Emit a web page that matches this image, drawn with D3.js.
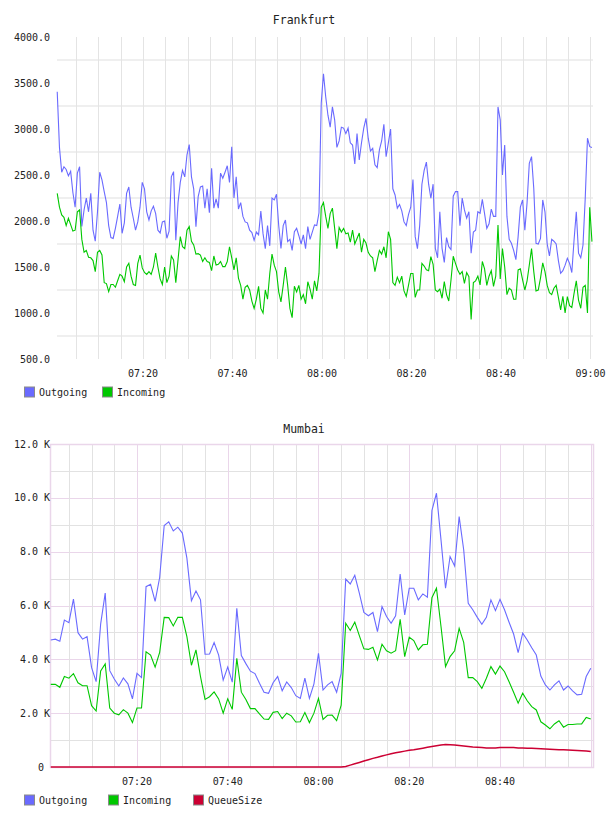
<!DOCTYPE html>
<html lang="en">
<head>
<meta charset="UTF-8">
<title>Frankfurt / Mumbai traffic</title>
<script src="https://cdn.jsdelivr.net/npm/d3@7"></script>
<style>
    body { margin: 0; background: #fff; }
    svg { display: block; }
    text { font-family: "DejaVu Sans Mono", monospace; fill: #222; }
</style>
</head>
<body>
<script>
/*------------------------- data -------------------------*/
const seriesNames = ["Outgoing", "Incoming", "QueueSize"];
const seriesColors = ["#6a6aff", "#00c800", "#cc0033"];

// Frankfurt: one sample every 30 s, starting 07:00:50
const fraStart = "07:00:50";
const fraStepSec = 30;
const fraOutgoing = [
    3406, 2800, 2530, 2590, 2560, 2490, 2540, 2310, 2150, 2520,
    2590, 1940, 2120, 2250, 2100, 2300, 1900, 1780, 2100, 2530,
    2446, 2320, 2200, 1950, 1820, 1810, 1920, 2050, 2185, 1866,
    1980, 2300, 2370, 2150, 2030, 1900, 1990, 2150, 2420, 2350,
    2100, 2011, 2110, 2160, 2080, 1900, 1870, 1990, 2000, 1812,
    1890, 2480, 2537, 1790, 2200, 2420, 2550, 2480, 2720, 2830,
    2480, 2350, 1939, 2265, 2370, 2380, 2138, 2350, 2090, 2573,
    2140, 2240, 2140, 2520, 2464, 2530, 2600, 2420, 2808, 2250,
    2480, 2130,
    2200, 2050, 1990, 1980, 1900, 1875, 1790, 1880, 1850, 2109,
    1860, 1700, 1950, 1730, 2250, 2230, 2290, 1950, 1703, 1950,
    2010, 1776, 1800, 1680, 1884, 1920, 1840, 1750, 1850, 1700,
    1939, 1800, 1880, 1957, 1950, 2090, 3280, 3600, 3350, 3150,
    3020, 3240, 3100, 2800, 2870, 3020, 3010, 2950, 3010, 2850,
    2826, 2620, 2950, 2663, 2850, 3010, 3116, 2900, 2760, 2790,
    2610, 2580, 2772, 2870, 3050, 2700, 2850, 3000, 2350, 2283,
    2140, 2180, 2110, 1990, 1950, 2070, 2150, 2450, 1830, 1700,
    1950, 2400, 2550, 2640, 2400, 2247, 2400, 1703, 1600, 2100,
    1703, 1550, 1820, 1721, 1690, 2270, 2320, 2319, 1950, 2250,
    2120, 2030, 2100, 1650, 1880, 1900, 2100, 2084, 2235, 2080,
    1920, 1970, 2130, 2050, 2050, 3240, 3100, 2500, 2826, 2050,
    1800, 1758, 1680, 1580, 1830, 2150, 2229, 1900, 2200, 2627,
    2700, 2350, 1758, 1750, 1810, 2229, 2100, 1750, 1620, 1800,
    1780, 1750, 1570, 1432, 1460, 1520, 1595, 1540, 1440, 1794,
    2100, 1650, 1600, 1739, 2250, 2900, 2808, 2800
];
const fraIncoming = [
    2300, 2150, 2066, 2040, 1950, 2030, 1960, 1890, 1900, 2100,
    2120, 1800, 1660, 1680, 1606, 1600, 1570, 1450, 1660, 1680,
    1631, 1330, 1320, 1232, 1310, 1310, 1280, 1350, 1420, 1400,
    1340, 1500, 1540, 1400, 1310, 1300, 1540, 1630, 1490, 1440,
    1420, 1450, 1420, 1500, 1650, 1500, 1370, 1310, 1500, 1330,
    1400, 1620, 1577, 1330, 1580, 1830, 1720, 1700, 1900, 1939,
    1780, 1740, 1640, 1645, 1630, 1560, 1600, 1560, 1550, 1460,
    1620, 1522, 1530, 1559, 1504, 1504, 1560, 1720, 1600, 1468,
    1600, 1380,
    1300, 1150, 1280, 1300, 1250, 1130, 1050, 1150, 1290, 1050,
    1000, 1250, 1150, 1430, 1640, 1520, 1450, 1230, 1120, 1300,
    1500, 1300, 1050, 950, 1290, 1230, 1300, 1150, 1200, 1100,
    1340, 1260, 1150, 1350, 1240, 1430, 2150, 2200, 2050, 1920,
    2080, 2140, 1920, 1700, 1930, 1880, 1920, 1860, 1870, 1770,
    1900, 1750, 1810, 1870, 1660, 1800, 1760, 1660, 1620, 1600,
    1450, 1570, 1680, 1640, 1720, 1600, 1884, 1800, 1330, 1300,
    1390, 1330, 1400, 1240, 1180, 1300, 1430, 1430, 1170, 1250,
    1250, 1540, 1510, 1470, 1460, 1613, 1530, 1250, 1232, 1260,
    1160, 1341, 1200, 1130, 1359, 1617, 1540, 1468, 1420, 1450,
    1323, 1440, 1395, 930, 1330, 1350, 1400, 1305, 1560, 1480,
    1300, 1400, 1460, 1290, 1400, 1957, 1370, 1700, 1500, 1200,
    1269, 1250, 1150, 1150, 1468, 1480, 1359, 1250, 1350, 1522,
    1700, 1450, 1240, 1250, 1380, 1545, 1450, 1300, 1220, 1200,
    1269, 1300, 1170, 1033, 1180, 1000, 1178, 1080, 1060, 1214,
    1350, 1140, 1051, 1280, 1300, 1000, 2150, 1776
];

// Mumbai: one sample per minute, starting 07:01, values in K
const mumStart = "07:01:00";
const mumStepSec = 60;
const mumOutgoing = [
    4.72, 4.75, 4.67, 5.46, 5.36, 6.24, 4.99, 4.75, 4.84, 3.69,
    3.17, 5.32, 6.46, 3.58, 3.27, 3.01, 3.31, 3.09, 2.53, 3.48,
    3.32, 6.70, 6.79, 6.15, 7.04, 8.97, 9.11, 8.77, 8.91, 8.69,
    7.76, 6.18, 6.54, 6.21, 4.19, 4.20, 4.62, 4.16, 3.23, 3.71,
    3.15, 5.90, 4.14, 3.84, 3.56, 3.47, 3.11, 2.78, 2.74, 3.13,
    3.36, 2.83, 3.16, 2.95, 2.65, 2.55, 3.30, 2.55, 3.09, 4.22,
    2.86, 3.05, 3.17, 2.78, 3.48, 6.98, 6.80, 7.12, 6.46, 5.74,
    5.62, 5.74, 5.03, 5.96, 5.59, 5.34, 5.62, 7.17, 5.65, 6.64,
    6.64, 6.21, 6.43, 6.31, 9.53, 10.17, 8.44, 6.64, 7.82, 7.47,
    9.30, 8.07, 6.08, 5.84, 5.56, 5.30, 5.56, 6.21, 5.81, 6.23,
    5.84, 5.38, 4.94, 4.25, 4.97, 4.72, 4.43, 4.16, 3.38, 3.05,
    2.86, 3.05, 3.20, 2.86, 3.01, 2.83, 2.68, 2.70, 3.36, 3.67
];
const mumIncoming = [
    3.07, 3.07, 2.96, 3.36, 3.30, 3.47, 3.13, 3.02, 3.02, 2.28,
    2.08, 3.57, 3.83, 2.19, 2.00, 1.94, 2.13, 2.00, 1.65, 2.19,
    2.19, 4.28, 4.16, 3.71, 4.26, 5.56, 5.55, 5.24, 5.56, 5.56,
    4.84, 3.78, 4.35, 3.36, 2.51, 2.61, 2.79, 2.53, 2.00, 2.53,
    2.14, 4.04, 2.78, 2.51, 2.17, 2.17, 1.97, 1.78, 1.77, 2.03,
    2.06, 1.80, 2.00, 1.90, 1.67, 1.68, 2.02, 1.65, 2.00, 2.55,
    1.77, 1.92, 1.93, 1.72, 2.30, 5.34, 5.07, 5.38, 4.88, 4.39,
    4.37, 4.45, 3.98, 4.56, 4.32, 4.23, 4.32, 5.49, 4.10, 4.82,
    4.70, 4.35, 4.54, 4.56, 6.29, 6.64, 5.22, 3.73, 4.10, 4.32,
    5.15, 4.63, 3.32, 3.32, 3.17, 2.92, 3.30, 3.73, 3.45, 3.75,
    3.54, 3.17, 2.78, 2.37, 2.74, 2.46, 2.24, 2.12, 1.68, 1.56,
    1.42, 1.60, 1.72, 1.48, 1.58, 1.58, 1.60, 1.60, 1.84, 1.78
];
const mumQueue = [
    0, 0, 0, 0, 0, 0, 0, 0, 0, 0,
    0, 0, 0, 0, 0, 0, 0, 0, 0, 0,
    0, 0, 0, 0, 0, 0, 0, 0, 0, 0,
    0, 0, 0, 0, 0, 0, 0, 0, 0, 0,
    0, 0, 0, 0, 0, 0, 0, 0, 0, 0,
    0, 0, 0, 0, 0, 0, 0, 0, 0, 0,
    0, 0, 0, 0, 0, 0.02, 0.07, 0.12, 0.17, 0.22,
    0.27, 0.32, 0.36, 0.41, 0.45, 0.49, 0.53, 0.56, 0.59, 0.62,
    0.64, 0.67, 0.70, 0.73, 0.76, 0.79, 0.82, 0.84, 0.83, 0.82,
    0.80, 0.78, 0.76, 0.74, 0.73, 0.72, 0.71, 0.71, 0.71, 0.72,
    0.72, 0.72, 0.72, 0.71, 0.71, 0.70, 0.70, 0.69, 0.68, 0.67,
    0.66, 0.65, 0.64, 0.64, 0.63, 0.62, 0.61, 0.60, 0.59, 0.58
];

// axis labels
const fraTimeTicks = ["07:20", "07:40", "08:00", "08:20", "08:40", "09:00"];
const fraValueTicks = [500, 1000, 1500, 2000, 2500, 3000, 3500, 4000];
const mumTimeTicks = ["07:20", "07:40", "08:00", "08:20", "08:40"];
const mumValueTicks = [0, 2, 4, 6, 8, 10, 12];

/*------------------------- helpers -------------------------*/
const parseT = d3.timeParse("%H:%M:%S");
const parseHM = d3.timeParse("%H:%M");

function toPoints(values, start, stepSec) {
    const t0 = parseT(start).getTime();
    return values.map((v, i) => ({ t: new Date(t0 + i * stepSec * 1000), v: v }));
}

const svg = d3.select("body").append("svg")
    .attr("width", 608)
    .attr("height", 816);

function legend(g, y, xs, n) {
    for (let i = 0; i < n; i++) {
        g.append("rect")
            .attr("x", xs[i] + 0.5).attr("y", y + 0.5)
            .attr("width", 10).attr("height", 10)
            .attr("fill", seriesColors[i])
            .attr("stroke", "#8a8a8a");
        g.append("text")
            .attr("x", xs[i] + 15).attr("y", y + 9)
            .attr("font-size", 10)
            .text(seriesNames[i]);
    }
}

/*------------------------- Frankfurt -------------------------*/
{
    const left = 57, right = 593, top = 37, bottom = 359;
    const x = d3.scaleTime()
        .domain([parseT("07:00:47"), parseT("09:00:34")])
        .range([left, right]);
    const y = d3.scaleLinear().domain([500, 4000]).range([bottom, top]);
    const g = svg.append("g");

    g.append("text").attr("x", 304).attr("y", 24)
        .attr("text-anchor", "middle").attr("font-size", 11.5)
        .text("Frankfurt");

    // horizontal grid sits half way between the value labels
    g.selectAll(".hgrid")
        .data(d3.range(750, 4000, 500))
        .join("line")
        .attr("x1", left).attr("x2", right)
        .attr("y1", d => y(d)).attr("y2", d => y(d))
        .attr("stroke", "#efefef").attr("stroke-width", 2);

    g.selectAll(".vgrid")
        .data(d3.timeMinute.every(5).range(x.domain()[0], x.domain()[1]))
        .join("line")
        .attr("x1", d => Math.round(x(d)) + 0.5).attr("x2", d => Math.round(x(d)) + 0.5)
        .attr("y1", top).attr("y2", bottom)
        .attr("stroke", "#e4e4e4");

    g.selectAll(".ylab")
        .data(fraValueTicks)
        .join("text")
        .attr("x", 50).attr("y", d => y(d) + 3.5)
        .attr("text-anchor", "end").attr("font-size", 10)
        .text(d => d3.format(".1f")(d));

    g.selectAll(".xlab")
        .data(fraTimeTicks)
        .join("text")
        .attr("x", d => x(parseHM(d))).attr("y", 376.5)
        .attr("text-anchor", "middle").attr("font-size", 10)
        .text(d => d);

    const line = d3.line().x(d => x(d.t)).y(d => y(d.v));
    [fraOutgoing, fraIncoming].forEach((vals, i) => {
        g.append("path")
            .datum(toPoints(vals, fraStart, fraStepSec))
            .attr("d", line)
            .attr("fill", "none")
            .attr("stroke", seriesColors[i])
            .attr("stroke-width", 1.1);
    });

    legend(g, 386.5, [24, 102], 2);
}

/*------------------------- Mumbai -------------------------*/
{
    const left = 50, right = 594, top = 444, bottom = 767;
    const x = d3.scaleTime()
        .domain([parseT("07:00:50"), parseT("09:00:43")])
        .range([left, right]);
    const y = d3.scaleLinear().domain([0, 12]).range([bottom, top]);
    const g = svg.append("g");
    const major = "#ead6ea", minor = "#e2e2e2";

    g.append("text").attr("x", 304).attr("y", 433)
        .attr("text-anchor", "middle").attr("font-size", 11.5)
        .text("Mumbai");

    g.selectAll(".hgrid")
        .data(d3.range(1, 12, 1))
        .join("line")
        .attr("x1", left).attr("x2", right)
        .attr("y1", d => Math.round(y(d)) + 0.5).attr("y2", d => Math.round(y(d)) + 0.5)
        .attr("stroke", d => d % 2 === 0 ? major : minor)
        .attr("stroke-width", 1);

    g.selectAll(".vgrid")
        .data(d3.timeMinute.every(5).range(x.domain()[0], x.domain()[1]))
        .join("line")
        .attr("x1", d => Math.round(x(d)) + 0.5).attr("x2", d => Math.round(x(d)) + 0.5)
        .attr("y1", top).attr("y2", bottom)
        .attr("stroke", d => d.getMinutes() % 20 === 0 ? major : minor)
        .attr("stroke-width", 1);

    g.append("rect")
        .attr("x", left + 0.5).attr("y", top + 0.5)
        .attr("width", right - left - 1).attr("height", bottom - top)
        .attr("fill", "none").attr("stroke", major).attr("stroke-width", 1.5);

    g.selectAll(".ylab")
        .data(mumValueTicks)
        .join("text")
        .attr("x", d => d === 0 ? 44 : 50).attr("y", d => y(d) + 3.5)
        .attr("text-anchor", "end").attr("font-size", 10)
        .text(d => d === 0 ? "0" : d3.format(".1f")(d) + " K");

    g.selectAll(".xlab")
        .data(mumTimeTicks)
        .join("text")
        .attr("x", d => x(parseHM(d))).attr("y", 784.5)
        .attr("text-anchor", "middle").attr("font-size", 10)
        .text(d => d);

    const line = d3.line().x(d => x(d.t)).y(d => y(d.v));
    [mumOutgoing, mumIncoming, mumQueue].forEach((vals, i) => {
        g.append("path")
            .datum(toPoints(vals, mumStart, mumStepSec))
            .attr("d", line)
            .attr("fill", "none")
            .attr("stroke", seriesColors[i])
            .attr("stroke-width", i === 2 ? 1.5 : 1.1);
    });

    legend(g, 794.5, [24, 108, 193], 3);
}
</script>
</body>
</html>
